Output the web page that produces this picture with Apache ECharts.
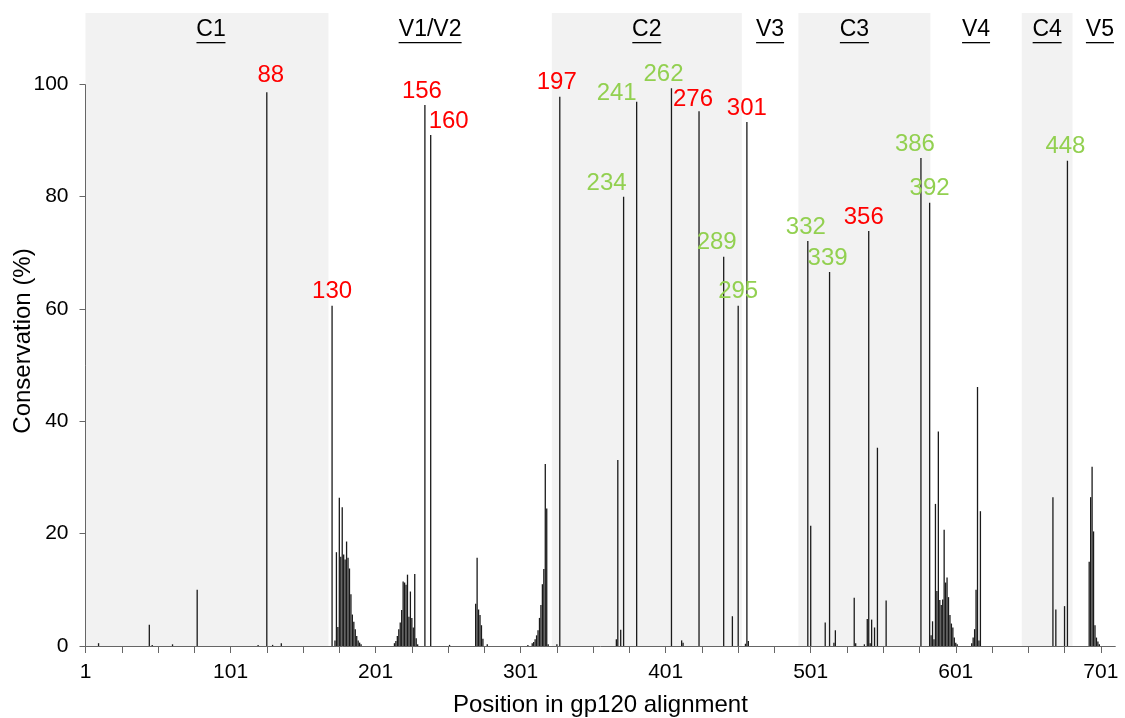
<!DOCTYPE html>
<html>
<head>
<meta charset="utf-8">
<script src="https://cdn.jsdelivr.net/npm/echarts@6/dist/echarts.min.js"></script>
<style>
  html, body { margin: 0; padding: 0; background: #ffffff; }
  #chart { width: 1125px; height: 718px; }
</style>
</head>
<body>
<div id="chart"></div>
<script>
// Conservation (%) per gp120 alignment position (positions not listed are 0)
const positions = [
  10, 45, 47, 61, 78, 120, 130, 136,
  173, 174, 175, 176, 177, 178, 179, 180, 181, 182, 183, 184, 185, 186, 187, 188, 189, 190, 191,
  214, 215, 216, 217, 218, 219, 220, 221, 222, 223, 224, 225, 226, 227, 228, 229, 230,
  252,
  270, 271, 272, 273, 274, 275, 278,
  306, 309, 310, 311, 312, 313, 314, 315, 316, 317, 318, 319, 320, 326,
  367, 368, 370,
  412, 413,
  447, 456, 458,
  501, 511, 517, 518, 531, 532, 538, 540, 542, 543, 545, 547, 553,
  584, 585, 586, 587, 588, 589, 590, 591, 592, 593, 594, 595, 596, 597, 598, 599, 600, 601, 602,
  612, 613, 614, 615, 616, 617, 618,
  668, 670, 676,
  693, 694, 695, 696, 697, 698, 699, 700
];
const conservation = [
  0.5, 3.8, 0.2, 0.3, 10.0, 0.2, 0.2, 0.5,
  1.0, 16.7, 3.4, 26.4, 15.9, 24.7, 16.3, 15.4, 18.6, 15.7, 13.8, 9.2, 5.6, 4.3, 3.0, 1.8, 1.0, 0.6, 0.3,
  0.5, 0.9, 1.8, 3.0, 4.2, 6.4, 11.5, 11.3, 10.9, 12.7, 5.2, 9.7, 5.0, 3.3, 12.8, 1.4, 0.3,
  0.2,
  7.5, 15.7, 6.5, 5.5, 3.7, 1.3, 0.3,
  0.2, 0.5, 0.7, 1.2, 1.9, 2.8, 5.0, 7.3, 11.0, 13.7, 32.4, 24.5, 0.3, 0.3,
  1.2, 33.1, 2.9,
  1.0, 0.6,
  5.3, 0.4, 0.9,
  21.4, 4.2, 0.6, 2.8, 8.6, 0.5, 0.3, 4.8, 0.5, 4.7, 3.3, 35.3, 8.1,
  1.9, 4.4, 1.2, 25.3, 9.8, 38.2, 8.2, 7.3, 8.3, 20.7, 11.3, 12.2, 8.7, 5.5, 4.0, 3.3, 1.5, 0.6, 0.3,
  0.5, 1.5, 3.0, 10.0, 46.1, 1.0, 24.0,
  26.5, 6.5, 7.1,
  15.0, 26.5, 31.9, 20.4, 3.7, 1.5, 0.8, 0.3
];

// Highlighted sites: alignment position, conservation, site number, group (1 or 2)
const sitePositions = [126, 171, 235, 239, 328, 372, 381, 405, 424, 441, 451, 457, 499, 514, 541, 577, 583, 678];
const siteValues    = [98.6, 60.6, 96.3, 91.0, 97.8, 80.0, 96.9, 99.3, 95.2, 69.3, 60.6, 93.3, 72.1, 66.6, 73.9, 86.9, 78.9, 86.4];
const siteNumbers   = ['88', '130', '156', '160', '197', '234', '241', '262', '276', '289', '295', '301', '332', '339', '356', '386', '392', '448'];
const siteGroups    = [1, 1, 1, 1, 1, 2, 2, 2, 1, 2, 2, 1, 2, 2, 1, 2, 2, 2];

// gp120 constant / variable regions along the alignment
const regionNames  = ['C1', 'V1/V2', 'C2', 'V3', 'C3', 'V4', 'C4', 'V5'];
const regionStarts = [1, 168.5, 322.5, 453.5, 492.5, 583.5, 646.5, 681.5];
const regionEnds   = [168.5, 322.5, 453.5, 492.5, 583.5, 646.5, 681.5, 711];

// Axis ticks and labels
const xTickValues  = [1, 26, 51, 76, 101, 126, 151, 176, 201, 226, 251, 276, 301, 326, 351, 376,
                      401, 426, 451, 476, 501, 526, 551, 576, 601, 626, 651, 676, 701];
const xLabelValues = [1, 101, 201, 301, 401, 501, 601, 701];
const yLabelValues = [0, 20, 40, 60, 80, 100];

const FONT = '"Liberation Sans", Arial, sans-serif';
const groupColors = { 1: '#ff0000', 2: '#92d050' };
// small nudges so neighbouring site numbers do not collide
const siteLabelShift = {
  '88': [4, -3], '156': [-3, 0], '160': [18, 0], '197': [-3, 0], '234': [-17, 1],
  '241': [-20, 6], '262': [-8, 0], '276': [-6, 2], '289': [-7, 0], '356': [-5, 0],
  '386': [-6, 0], '448': [-2, 0], '332': [-2, 0], '339': [-2, 0]
};
// region headings that sit off the centre of their span
const regionLabelShift = { 'C1': 4, 'V1/V2': -10, 'C3': -10, 'V5': 6 };

const measureCtx = document.createElement('canvas').getContext('2d');
measureCtx.font = '23px "Liberation Sans", Arial, sans-serif';

const barData = positions.map((p, i) => [p, conservation[i]]);
sitePositions.forEach((p, i) => {
  const sh = siteLabelShift[siteNumbers[i]] || [0, 0];
  barData.push({
    value: [p, siteValues[i]],
    label: {
      show: true,
      position: 'top',
      distance: 2,
      offset: sh,
      formatter: siteNumbers[i],
      color: groupColors[siteGroups[i]],
      fontSize: 24,
      fontFamily: FONT
    }
  });
});
barData.sort((a, b) => (Array.isArray(a) ? a[0] : a.value[0]) - (Array.isArray(b) ? b[0] : b.value[0]));

const regionAreas = regionNames.map((name, i) => {
  const w = Math.round(measureCtx.measureText(name).width);
  return [
    {
      xAxis: regionStarts[i],
      itemStyle: { color: name.charAt(0) === 'C' ? '#f2f2f2' : 'rgba(0,0,0,0)' },
      label: {
        show: true,
        position: 'insideTop',
        distance: 4,
        offset: [regionLabelShift[name] || 0, 0],
        formatter: '{t|' + name + '}\n{u| }',
        rich: {
          t: { fontSize: 23, lineHeight: 25, color: '#000', fontFamily: FONT },
          u: { fontSize: 1, lineHeight: 1.3, height: 1.3, width: w, backgroundColor: '#000' }
        }
      }
    },
    { xAxis: regionEnds[i] }
  ];
});

const chart = echarts.init(document.getElementById('chart'), null, { renderer: 'canvas' });
chart.setOption({
  animation: false,
  backgroundColor: '#ffffff',
  grid: { left: 85.5, right: 9.7, top: 13, bottom: 72, outerBoundsMode: 'none' },
  xAxis: {
    type: 'value',
    min: 1,
    max: 711,
    name: 'Position in gp120 alignment',
    nameLocation: 'middle',
    nameGap: 47,
    nameMoveOverlap: false,
    nameTextStyle: { fontSize: 24, color: '#000', fontFamily: FONT },
    splitLine: { show: false },
    axisLine: { show: true, lineStyle: { color: '#666', width: 1 } },
    axisTick: { show: true, length: 7, customValues: xTickValues, lineStyle: { color: '#666' } },
    axisLabel: { customValues: xLabelValues, fontSize: 21, color: '#000', fontFamily: FONT, margin: 16 }
  },
  yAxis: {
    type: 'value',
    min: 0,
    max: 112.7,
    name: 'Conservation (%)',
    nameLocation: 'middle',
    nameGap: 50,
    nameMoveOverlap: false,
    nameTextStyle: { fontSize: 24, color: '#000', fontFamily: FONT, padding: [0, 23, 0, 0] },
    splitLine: { show: false },
    axisLine: { show: false },
    axisTick: { show: true, length: 6, customValues: yLabelValues, lineStyle: { color: '#666' } },
    axisLabel: { customValues: yLabelValues, fontSize: 21, color: '#000', fontFamily: FONT, margin: 17 }
  },
  series: [
    {
      // region shading, headings and the value-axis line (0 to 100 only)
      type: 'line',
      data: [],
      z: 0,
      silent: true,
      markArea: { silent: true, data: regionAreas },
      markLine: {
        silent: true,
        symbol: ['none', 'none'],
        label: { show: false },
        lineStyle: { color: '#666', width: 1, type: 'solid' },
        data: [[{ coord: [1, 0] }, { coord: [1, 100] }]]
      }
    },
    {
      type: 'bar',
      data: barData,
      barWidth: 1.3,
      z: 3,
      itemStyle: { color: '#1a1a1a' },
      emphasis: { disabled: true }
    }
  ]
});
</script>
</body>
</html>
